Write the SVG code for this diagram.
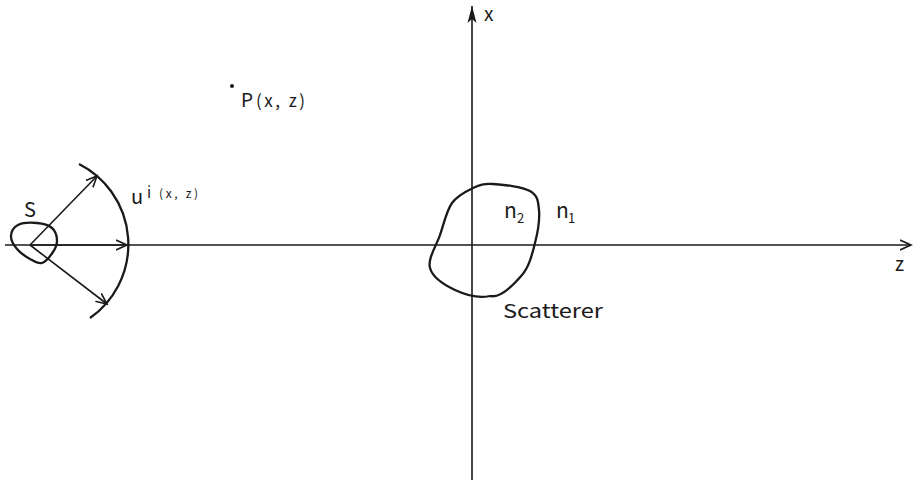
<svg xmlns="http://www.w3.org/2000/svg" width="914" height="482" viewBox="0 0 914 482">
<style>
.ax{fill:none;stroke:#1a1a1a;stroke-width:1.6}
.cv{fill:none;stroke:#1a1a1a;stroke-width:2.3;stroke-linejoin:round}
.ar{fill:none;stroke:#1a1a1a;stroke-width:1.6}
text{font-family:"Noto Sans CJK SC","DejaVu Sans",sans-serif;fill:#1a1a1a}
</style>
<defs>
<marker id="openV" markerUnits="userSpaceOnUse" markerWidth="14" markerHeight="12" refX="11" refY="5" orient="auto" viewBox="0 0 14 10">
<path d="M0,0 L11,5 L0,10" fill="none" stroke="#1a1a1a" stroke-width="1.6"/>
</marker>
<marker id="fillA" markerUnits="userSpaceOnUse" markerWidth="18" markerHeight="10" refX="17" refY="4.5" orient="auto" viewBox="0 0 18 9">
<path d="M0,0 L17,4.5 L0,9 L4,4.5 z" fill="#1a1a1a"/>
</marker>
</defs>
<rect width="914" height="482" fill="#ffffff"/>
<g id="connectors">
<line class="ax" x1="5" y1="245" x2="911" y2="245" marker-end="url(#openV)"/>
<line class="ax" x1="472" y1="480" x2="472" y2="6" marker-end="url(#fillA)"/>
<line class="ar" x1="30" y1="245" x2="97" y2="176" marker-end="url(#openV)"/>
<line class="ar" x1="30" y1="245" x2="127" y2="245" marker-end="url(#openV)"/>
<line class="ar" x1="30" y1="245" x2="107" y2="304" marker-end="url(#openV)"/>
</g>
<g id="source">
<path class="cv" d="M18,225 C22.3,222.8 31.3,222.5 37,223 C42.7,223.5 48.7,225.2 52,228 C55.3,230.8 56.8,236 57,240 C57.2,244 55.5,248.2 53,252 C50.5,255.8 45.8,261.8 42,263 C38.2,264.2 34.2,261.3 30,259 C25.8,256.7 20.2,252.8 17,249 C13.8,245.2 10.8,240 11,236 C11.2,232 13.7,227.2 18,225 Z"/>
<text x="24" y="217" font-size="20">S</text>
</g>
<g id="wavefront">
<path class="cv" d="M79,164 A90,90 0 0 1 90,318"/>
<text x="131" y="204" font-size="20">u</text>
<text x="147" y="198" font-size="15">i</text>
<text x="159" y="198" font-size="12" textLength="39" lengthAdjust="spacing">(x, z)</text>
</g>
<g id="pointP">
<circle cx="232" cy="86" r="2" fill="#1a1a1a"/>
<text x="241" y="107" font-size="19">P</text>
<text x="256" y="107" font-size="17" textLength="49" lengthAdjust="spacing">(x, z)</text>
</g>
<g id="scatterer">
<path class="cv" d="M493,184 C502.5,184.5 522.3,186.7 530,191 C537.7,195.3 538.2,201.3 539,210 C539.8,218.7 537.8,232.2 535,243 C532.2,253.8 529.5,266.2 522,275 C514.5,283.8 501.2,298.5 490,296 C478.8,298.5 465,294.7 455,290 C445,285.3 432.5,277.2 430,268 C427.5,258.8 436.3,245.8 440,235 C443.7,224.2 446.5,210.8 452,203 C457.5,195.2 466.2,191.2 473,188 C479.8,184.8 483.5,183.5 493,184 Z"/>
<text x="504" y="218" font-size="21">n</text>
<text x="517" y="223" font-size="13">2</text>
<text x="556" y="218" font-size="21">n</text>
<text x="568" y="223" font-size="13">1</text>
<text x="503" y="318" font-size="19" textLength="100" lengthAdjust="spacingAndGlyphs">Scatterer</text>
</g>
<g id="axis-labels">
<text x="484" y="21" font-size="19">x</text>
<text x="895" y="271" font-size="19">z</text>
</g>
</svg>
